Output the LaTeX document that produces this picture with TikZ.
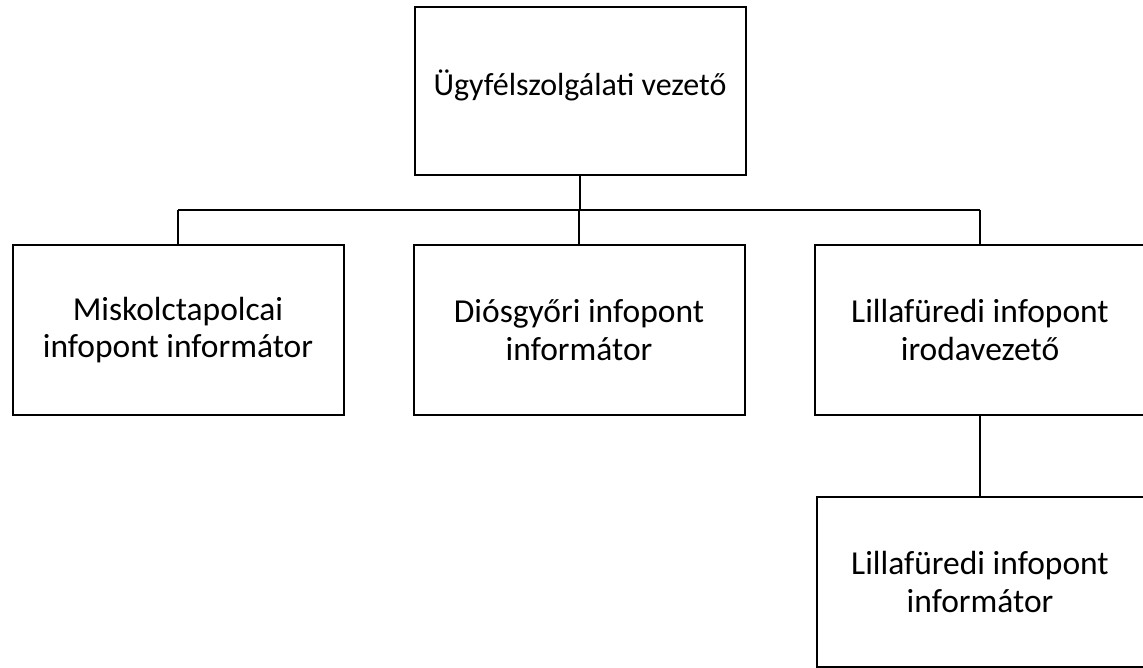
\documentclass[tikz,border=0pt]{standalone}
\usepackage{fontspec}
\setmainfont{Carlito}
\usetikzlibrary{chains,positioning}

\begin{document}
\begin{tikzpicture}[
x=1pt, y=-1pt,
node distance=70pt,
 start chain = A going right,
    B/.style = {rectangle, draw, line width=2pt, align=center,% styles of boxes
                minimum width=331pt, minimum height=170pt,
                font=\fontsize{33.5}{37.5}\selectfont, outer sep=0pt},
    C/.style = {B, on chain},% boxes in the middle row (chain)
    W/.style = {line width=2pt},
                        ]
\useasboundingbox (0,0) rectangle (1143,668);
\node[B, minimum height=168pt, font=\fontsize{32}{37}\selectfont,
      text depth=17pt] (top) at (580,91) {Ügyfélszolgálati vezető};
\node[C, at={(178,330)}] {Miskolctapolcai\\ infopont informátor};
\node[C] {Diósgyőri infopont\\ informátor};
\node[C] {Lillafüredi infopont\\ irodavezető};
\node[B, below=82pt of A-3, minimum width=327pt] (L) {Lillafüredi infopont\\ informátor};
\draw[W] (top.south) -- ++(0,35) coordinate (bus);
\draw[W] (bus -| A-1.north) -- (bus -| A-3.north);
\foreach \i in {1,2,3}% <-- drops to the middle row
    \draw[W] (A-\i.north |- bus) -- (A-\i.north);
\draw[W] (A-3.south) -- (L.north);
\end{tikzpicture}
\end{document}
